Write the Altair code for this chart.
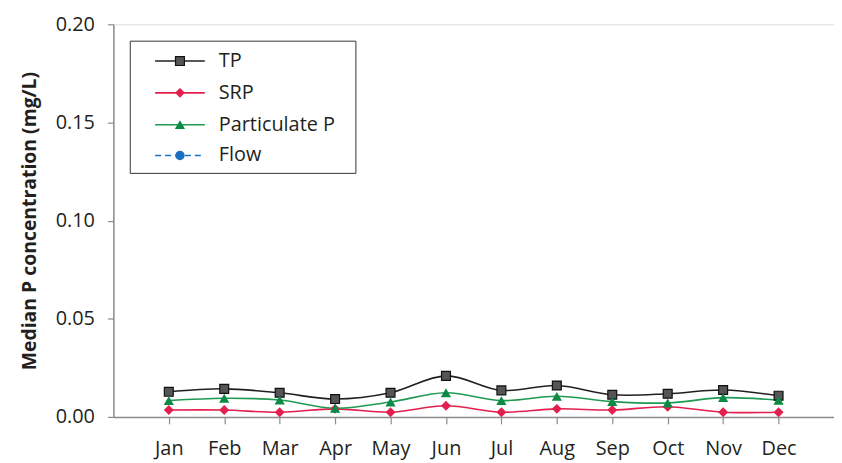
import altair as alt
import pandas as pd

months = ["Jan", "Feb", "Mar", "Apr", "May", "Jun", "Jul", "Aug", "Sep", "Oct", "Nov", "Dec"]
tp = [0.0128, 0.0143, 0.0123, 0.0091, 0.0123, 0.0209, 0.0135, 0.0160, 0.0113, 0.0118, 0.0137, 0.0108]
srp = [0.0035, 0.0035, 0.0024, 0.0041, 0.0024, 0.0057, 0.0024, 0.0041, 0.0035, 0.0052, 0.0024, 0.0024]
part = [0.0083, 0.0095, 0.0086, 0.0044, 0.0076, 0.0123, 0.0083, 0.0105, 0.0078, 0.0071, 0.0098, 0.0085]

series_names = ["TP", "SRP", "Particulate P", "Flow"]
line_colors = ["#231f20", "#e3204d", "#1f9a52", "#1a6fc4"]
fill_colors = ["#555555", "#e3204d", "#0a8a45", "#1a6fc4"]
stroke_colors = ["#111111", "#e3204d", "#0a8a45", "#1a6fc4"]
shapes = ["square", "diamond", "triangle-up", "circle"]
sizes = [80, 100, 105, 90]

FONT = "Open Sans"
TEXT = "#231f20"

rows = []
for name, vals in [("TP", tp), ("SRP", srp), ("Particulate P", part)]:
    for m, v in zip(months, vals):
        rows.append({"month": m, "series": name, "value": v})
df = pd.DataFrame(rows)

x_enc = alt.X(
    "month:N",
    sort=months,
    scale=alt.Scale(type="point", padding=1),
    axis=alt.Axis(
        title=None, labelAngle=0, labelFontSize=20, labelFont=FONT, labelColor=TEXT,
        domainColor="#8c8c8c", tickColor="#8c8c8c", tickSize=7, labelPadding=15,
        domainWidth=1.5, tickWidth=1.2,
    ),
)
y_enc = alt.Y(
    "value:Q",
    scale=alt.Scale(domain=[0, 0.2], nice=False, zero=True),
    axis=alt.Axis(
        title="Median P concentration (mg/L)", values=[0, 0.05, 0.10, 0.15, 0.20], format=".2f",
        labelFontSize=20, labelFont=FONT, labelColor=TEXT, titleFont=FONT, titleFontSize=19.5,
        titleFontWeight="bold", titleColor=TEXT, titlePadding=16, grid=False,
        domainColor="#8c8c8c", tickColor="#8c8c8c", tickSize=6, labelPadding=13,
        domainWidth=1.5, tickWidth=1.2,
    ),
)

color_scale = alt.Scale(domain=series_names[:3], range=line_colors[:3])

lines = alt.Chart(df).mark_line(interpolate="catmull-rom", strokeWidth=1.6).encode(
    x=x_enc, y=y_enc,
    color=alt.Color("series:N", scale=color_scale, legend=None),
)

layers = [lines]
for i, name in enumerate(series_names[:3]):
    sub = df[df.series == name]
    layers.append(
        alt.Chart(sub).mark_point(
            shape=shapes[i], filled=True, fill=fill_colors[i], stroke=stroke_colors[i],
            strokeWidth=1.2 if i == 0 else 0, size=sizes[i], opacity=1,
        ).encode(x=x_enc, y=y_enc)
    )

# legend box and entries
one = pd.DataFrame({"a": [0]})
layers.append(
    alt.Chart(one).mark_rect(fill="white", stroke="#333333", strokeWidth=1).encode(
        x=alt.value(17), x2=alt.value(244), y=alt.value(17), y2=alt.value(150)
    )
)
leg_y = [37, 69, 101, 132]
for i, name in enumerate(series_names):
    layers.append(
        alt.Chart(one).mark_rule(
            color=line_colors[i], strokeWidth=1.6,
            strokeDash=[6, 4] if name == "Flow" else [1, 0],
        ).encode(x=alt.value(42), x2=alt.value(92), y=alt.value(leg_y[i]))
    )
    layers.append(
        alt.Chart(one).mark_point(
            shape=shapes[i], filled=True, fill=fill_colors[i], stroke=stroke_colors[i],
            strokeWidth=1.2 if i == 0 else 0, size=sizes[i], opacity=1,
        ).encode(x=alt.value(67), y=alt.value(leg_y[i]))
    )
    layers.append(
        alt.Chart(one).mark_text(
            text=name, align="left", baseline="middle", font=FONT, fontSize=20, color=TEXT,
        ).encode(x=alt.value(106), y=alt.value(leg_y[i]))
    )

chart = alt.layer(*layers).properties(
    width=725, height=395,
    padding={"left": 11, "top": 5, "right": 0, "bottom": 5},
).configure_view(stroke=None).configure(background="white")

chart.save("out.html", embed_options={"renderer": "svg", "actions": False})
